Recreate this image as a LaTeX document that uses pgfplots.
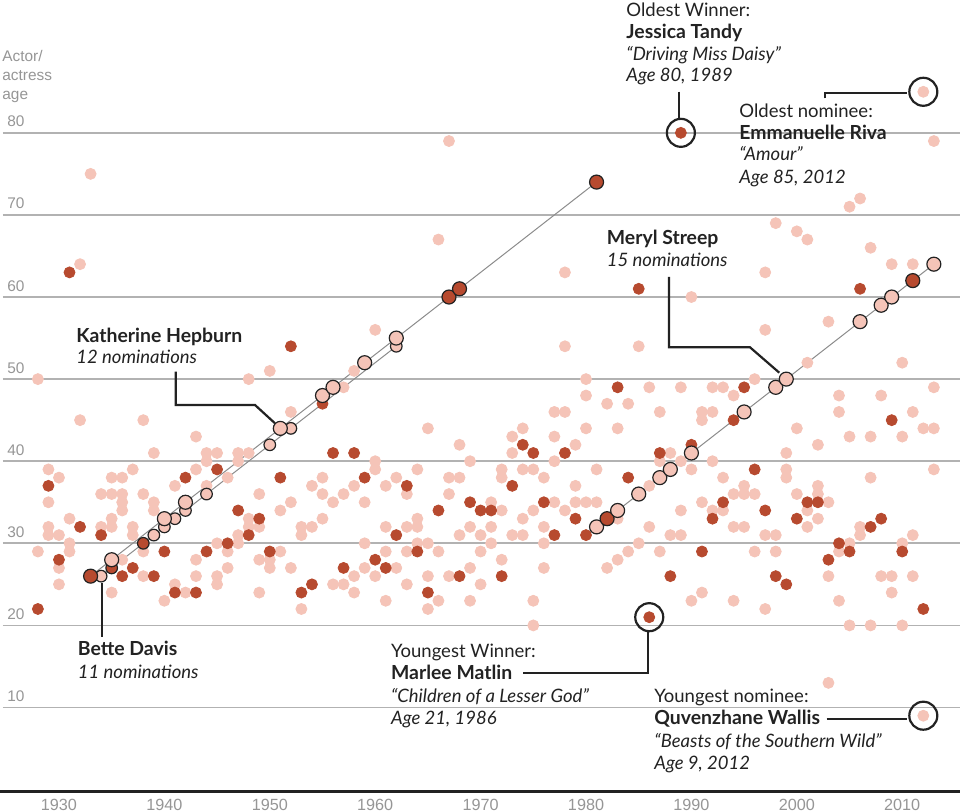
\documentclass[border=0pt]{standalone}
\usepackage{fontspec}
\setmainfont{Lato}
\newfontfamily\axisfont{Liberation Sans}
\usepackage{pgfplots}
\usepackage{pgfplotstable}
\pgfplotsset{compat=1.18}

\definecolor{nomfill}{RGB}{245,196,184}
\definecolor{winfill}{RGB}{183,74,47}
\definecolor{ink}{RGB}{34,34,34}
\definecolor{gridgrey}{RGB}{178,178,178}
\definecolor{labelgrey}{RGB}{150,150,150}
\definecolor{connect}{RGB}{140,140,140}

% nominees who did not win (year of film, age)
\pgfplotstableread{
year age
1928 50
1928 29
1929 39
1929 35
1929 32
1929 31
1930 38
1930 31
1930 27
1930 25
1931 33
1931 30
1931 29
1932 64
1932 45
1933 75
1934 36
1934 32
1935 38
1935 36
1935 33
1935 32
1935 24
1936 38
1936 36
1936 35
1936 34
1936 28
1937 39
1937 32
1937 31
1938 45
1938 36
1938 29
1938 26
1939 41
1939 35
1939 34
1940 23
1941 37
1941 25
1942 24
1943 43
1943 39
1943 28
1943 26
1944 41
1944 40
1944 37
1945 41
1945 30
1945 26
1945 25
1946 38
1946 29
1946 27
1947 41
1947 40
1947 31
1947 30
1948 50
1948 41
1948 33
1948 32
1949 36
1949 32
1949 28
1949 24
1950 51
1950 28
1950 27
1951 34
1951 29
1952 46
1952 35
1952 27
1953 32
1953 31
1953 22
1954 37
1954 32
1955 38
1955 36
1955 33
1956 35
1956 25
1957 49
1957 36
1957 25
1958 51
1958 37
1958 26
1958 24
1959 35
1959 30
1959 27
1960 56
1960 40
1960 39
1960 26
1961 37
1961 32
1961 29
1961 23
1962 38
1962 27
1963 36
1963 32
1963 29
1963 25
1964 39
1964 33
1964 32
1964 30
1965 44
1965 30
1965 26
1965 22
1966 67
1966 29
1966 23
1967 79
1967 38
1967 36
1967 26
1968 42
1968 38
1968 31
1969 40
1969 32
1969 27
1969 23
1970 31
1970 29
1970 25
1971 35
1971 32
1971 30
1972 39
1972 38
1972 34
1972 28
1973 43
1973 41
1973 31
1974 44
1974 39
1974 33
1974 31
1975 39
1975 34
1975 23
1975 20
1976 38
1976 32
1976 30
1976 27
1977 46
1977 43
1977 40
1977 35
1978 63
1978 54
1978 46
1978 34
1979 42
1979 37
1979 35
1980 50
1980 48
1980 44
1980 35
1981 39
1981 35
1982 47
1982 27
1983 44
1983 33
1983 28
1984 47
1984 29
1985 54
1985 30
1986 49
1986 37
1986 32
1987 46
1987 40
1987 29
1988 41
1988 31
1989 49
1989 40
1989 34
1989 31
1990 60
1990 39
1990 23
1991 46
1991 45
1991 35
1991 24
1992 49
1992 46
1992 40
1992 34
1993 49
1993 38
1993 34
1994 48
1994 36
1994 32
1994 23
1995 37
1995 36
1995 32
1996 50
1996 36
1996 29
1997 63
1997 56
1997 31
1997 22
1998 69
1998 31
1998 29
1999 41
1999 39
1999 38
2000 68
2000 44
2000 36
2001 67
2001 52
2001 34
2001 32
2002 42
2002 37
2002 36
2002 33
2003 57
2003 35
2003 26
2003 13
2004 48
2004 46
2004 29
2004 23
2005 71
2005 43
2005 30
2005 20
2006 72
2006 32
2006 31
2007 66
2007 43
2007 38
2007 20
2008 48
2008 26
2009 64
2009 26
2009 24
2010 52
2010 43
2010 30
2010 20
2011 64
2011 46
2011 31
2011 26
2012 85
2012 44
2012 9
2013 79
2013 49
2013 44
2013 39
}\nominees

% winners
\pgfplotstableread{
year age
1928 22
1929 37
1930 28
1931 63
1932 32
1934 31
1936 26
1937 27
1939 26
1940 29
1941 24
1942 38
1943 24
1944 29
1945 39
1946 30
1947 34
1948 31
1949 33
1950 29
1951 38
1952 54
1953 24
1954 25
1955 47
1956 41
1957 27
1958 41
1959 38
1960 28
1961 27
1962 31
1963 37
1964 29
1965 24
1966 34
1968 26
1969 35
1970 34
1971 34
1972 26
1973 37
1974 42
1975 41
1976 35
1977 31
1978 41
1979 33
1980 31
1983 49
1984 38
1985 61
1986 21
1987 41
1988 26
1989 80
1990 42
1991 29
1992 33
1993 35
1994 45
1995 49
1996 39
1997 34
1998 26
1999 25
2000 33
2001 35
2002 35
2003 28
2004 30
2005 29
2006 61
2007 32
2008 33
2009 45
2010 29
2012 22
}\winners

% the three actresses followed through their careers (n = nominated, w = won)
\pgfplotstableread{
year age won
1933 26 w
1935 28 n
1940 33 n
1942 35 n
1951 44 n
1955 48 n
1956 49 n
1959 52 n
1962 55 n
1967 60 w
1968 61 w
1981 74 w
}\hepburn

\pgfplotstableread{
year age won
1934 26 n
1935 27 w
1938 30 w
1939 31 n
1940 32 n
1941 33 n
1942 34 n
1944 36 n
1950 42 n
1952 44 n
1962 54 n
}\davis

\pgfplotstableread{
year age won
1981 32 n
1982 33 w
1983 34 n
1985 36 n
1987 38 n
1988 39 n
1990 41 n
1995 46 n
1998 49 n
1999 50 n
2006 57 n
2008 59 n
2009 60 n
2011 62 w
2013 64 n
}\streep

\pgfplotsset{
  careerdots/.style={scatter, only marks, mark=*, mark size=#1,
    scatter src=explicit symbolic,
    scatter/classes={
      n={mark=*, draw=ink, fill=nomfill, line width=0.6pt},
      w={mark=*, draw=ink, fill=winfill, line width=0.6pt}}},
  careerline/.style={connect, line width=0.5pt, no marks},
}

\begin{document}
\begin{tikzpicture}
\useasboundingbox (0,0) rectangle (480pt,-406pt);
\fill[white] (0,0) rectangle (480pt,-406pt);

\begin{axis}[
  at={(1.5pt,-394.8pt)}, anchor=south west,
  scale only axis, width=478.5pt, height=394.8pt,
  xmin=1924.69, xmax=2015.48,
  ymin=0, ymax=96.18,
  axis line style={draw=none},
  major tick length=0pt,
  xtick={1930,1940,...,2010},
  xticklabels={1930,1940,1950,1960,1970,1980,1990,2000,2010},
  ytick={10,20,...,80},
  yticklabels={10,20,30,40,50,60,70,80},
  ymajorgrids,
  grid style={gridgrey, line width=0.9pt},
  xticklabel style={font=\axisfont\fontsize{8.1}{9}\selectfont, text=labelgrey,
    anchor=north, inner sep=0pt, yshift=-4.8pt},
  yticklabel style={font=\axisfont\fontsize{7.7}{9}\selectfont, text=labelgrey,
    anchor=base west, inner sep=0pt, xshift=2pt, yshift=3pt},
  clip=false,
]
  \addplot[nomfill, only marks, mark=*, mark size=2.75pt,
    mark options={draw=nomfill, fill=nomfill}] table[x=year, y=age] {\nominees};
  \addplot[winfill, only marks, mark=*, mark size=2.75pt,
    mark options={draw=winfill, fill=winfill}] table[x=year, y=age] {\winners};

  \addplot[careerline] table[x=year, y=age] {\davis};
  \addplot[careerline] table[x=year, y=age] {\hepburn};
  \addplot[careerline] table[x=year, y=age] {\streep};

  \addplot[careerdots=2.9pt] table[x=year, y=age, meta=won] {\davis};
  \addplot[careerdots=3.5pt] table[x=year, y=age, meta=won] {\hepburn};
  \addplot[careerdots=3.5pt] table[x=year, y=age, meta=won] {\streep};

  % rings round the oldest and youngest
  \addplot[only marks, mark=o, mark size=7pt, mark options={draw=ink, line width=1.1pt}]
    coordinates {(1989,80) (2012,85) (1986,21) (2012,9)};
\end{axis}

\begin{scope}[x=0.5pt, y=-0.5pt,
  every node/.style={anchor=base west, inner sep=0pt, text=ink},
  reg/.style={font=\fontsize{9.25}{11}\selectfont},
  bld/.style={font=\fontsize{9.7}{11}\selectfont\bfseries},
  itl/.style={font=\fontsize{9.25}{11}\selectfont\itshape},
  lab/.style={font=\axisfont\fontsize{7.7}{9}\selectfont, text=labelgrey}]

  \draw[ink, line width=1.3pt] (0,791.6) -- (960,791.6);

  \node[lab] at (2,61.7) {Actor/};
  \node[lab] at (2,80.7) {actress};
  \node[lab] at (2,99.3) {age};

  % Jessica Tandy
  \node[reg] at (626,16.5) {Oldest Winner:};
  \node[bld] at (626,38.5) {Jessica Tandy};
  \node[itl] at (626,60.7) {“Driving Miss Daisy”};
  \node[itl] at (626,82) {Age 80, 1989};
  \draw[ink, line width=1.1pt] (679.3,91.7) -- (679.3,118.7);

  % Emmanuelle Riva
  \node[reg] at (739,117.3) {Oldest nominee:};
  \node[bld] at (739,139.3) {Emmanuelle Riva};
  \node[itl] at (739,161) {“Amour”};
  \node[itl] at (739,183.3) {Age 85, 2012};
  \draw[ink, line width=1.1pt] (825,98.3) -- (825,92.7) -- (906.5,92.7);

  % Meryl Streep
  \node[bld] at (606.5,245) {Meryl Streep};
  \node[itl] at (606.5,267) {15 nominations};
  \draw[ink, line width=1.1pt] (669,277) -- (669,347.3) -- (750,347.3) -- (779.3,372.7);

  % Katherine Hepburn
  \node[bld] at (76,342.7) {Katherine Hepburn};
  \node[itl] at (76,364) {12 nominations};
  \draw[ink, line width=1.1pt] (175.7,371.7) -- (175.7,405) -- (255,405) -- (275,423.3);

  % Bette Davis
  \node[bld] at (77.5,656) {Bette Davis};
  \node[itl] at (77.5,678.3) {11 nominations};
  \draw[ink, line width=1.1pt] (101.7,583.3) -- (101.7,636.7);

  % Marlee Matlin
  \node[reg] at (390.7,658) {Youngest Winner:};
  \node[bld] at (390.7,680) {Marlee Matlin};
  \node[itl] at (390.7,702.7) {“Children of a Lesser God”};
  \node[itl] at (390.7,725) {Age 21, 1986};
  \draw[ink, line width=1.1pt] (523.3,673.3) -- (648.2,673.3) -- (648.2,632);

  % Quvenzhane Wallis
  \node[reg] at (654,702.7) {Youngest nominee:};
  \node[bld] at (654,725) {Quvenzhane Wallis};
  \node[itl] at (654,747.3) {“Beasts of the Southern Wild”};
  \node[itl] at (654,769.3) {Age 9, 2012};
  \draw[ink, line width=1.1pt] (826.7,719) -- (906.5,719);
\end{scope}
\end{tikzpicture}
\end{document}
